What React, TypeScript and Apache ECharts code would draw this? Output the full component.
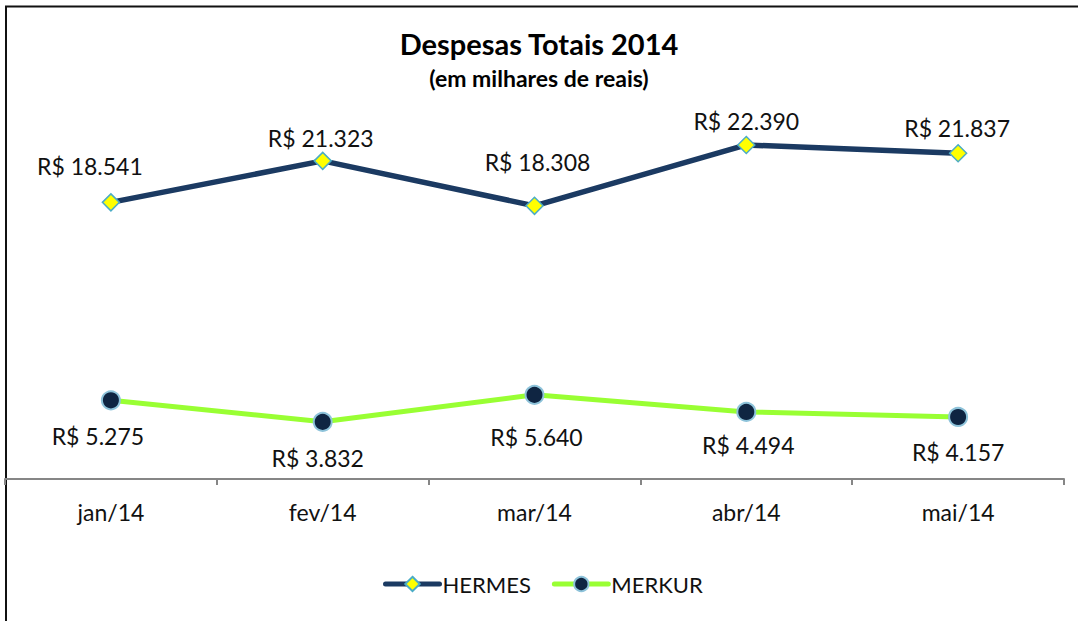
import React, { useEffect, useRef } from "react";
import * as echarts from "echarts";

const categories = ["jan/14", "fev/14", "mar/14", "abr/14", "mai/14"];
const hermes = [18541, 21323, 18308, 22390, 21837];
const merkur = [5275, 3832, 5640, 4494, 4157];
const hermesLabelOffsets = [[-21, -36], [-2, -23], [3, -44], [0, -24], [-1, -25]];
const merkurLabelOffsets = [[-13, 36], [-5, 36], [2, 42], [2, 33], [0, 35]];

const FONT = "Lato, 'Open Sans', sans-serif";

const fmt = (v: number) => "R$ " + v.toLocaleString("pt-BR");

export default function App() {
  const ref = useRef<HTMLDivElement>(null);
  useEffect(() => {
    if (!ref.current) return;
    const chart = echarts.init(ref.current, null, { renderer: "svg" });
    const labelStyle = {
      show: true,
      position: "inside",
      fontSize: 23,
      fontFamily: FONT,
      color: "#111",
      formatter: (p: any) => fmt(p.value),
    };
    chart.setOption({
      animation: false,
      backgroundColor: "#fff",
      textStyle: { fontFamily: FONT },
      title: {
        text: "Despesas Totais 2014",
        subtext: "(em milhares de reais)",
        left: "center",
        top: 24,
        itemGap: 8,
        textStyle: { fontSize: 29, fontWeight: "bold", color: "#000", fontFamily: FONT },
        subtextStyle: { fontSize: 23, fontWeight: "bold", color: "#000", fontFamily: FONT },
      },
      grid: { left: 5, right: 14, top: 106, bottom: 142 },
      xAxis: {
        type: "category",
        data: categories,
        boundaryGap: true,
        axisLine: { lineStyle: { color: "#868686", width: 2 } },
        axisTick: { show: true, length: 6, lineStyle: { color: "#868686", width: 2 } },
        axisLabel: { fontSize: 23, color: "#111", margin: 21, fontFamily: FONT },
      },
      yAxis: {
        type: "value",
        min: 0,
        max: 25000,
        show: false,
        splitLine: { show: false },
      },
      legend: {
        bottom: 21,
        left: 378,
        itemWidth: 54,
        itemHeight: 18,
        itemGap: 21,
        textStyle: { fontSize: 22, color: "#111", fontFamily: FONT, padding: [0, 0, 0, -2] },
        data: [
          { name: "HERMES", lineStyle: { width: 5, cap: "round" } },
          { name: "MERKUR", lineStyle: { width: 5, cap: "round" } },
        ],
      },
      graphic: [
        { type: "line", shape: { x1: 5, y1: 6.5, x2: 1078, y2: 6.5 }, style: { stroke: "#111", lineWidth: 2 } },
        { type: "line", shape: { x1: 6, y1: 6, x2: 6, y2: 621 }, style: { stroke: "#111", lineWidth: 2 } },
      ],
      series: [
        {
          name: "HERMES",
          type: "line",
          data: hermes.map((v, i) => ({
            value: v,
            label: { ...labelStyle, offset: hermesLabelOffsets[i] },
          })),
          symbol: "diamond",
          symbolSize: 17,
          lineStyle: { color: "#1B3A62", width: 5.5 },
          itemStyle: { color: "#FFFF00", borderColor: "#4BACC6", borderWidth: 1.5 },
          label: labelStyle,
          z: 3,
        },
        {
          name: "MERKUR",
          type: "line",
          data: merkur.map((v, i) => ({
            value: v,
            label: { ...labelStyle, offset: merkurLabelOffsets[i] },
          })),
          symbol: "circle",
          symbolSize: 18,
          lineStyle: { color: "#99FF33", width: 5 },
          itemStyle: { color: "#0F2542", borderColor: "#8EC3DA", borderWidth: 2 },
          label: labelStyle,
          z: 2,
        },
      ],
    });
    return () => chart.dispose();
  }, []);
  return (
    <div
      ref={ref}
      style={{ position: "fixed", left: 0, top: 0, width: 1078, height: 621, background: "#fff" }}
    />
  );
}
